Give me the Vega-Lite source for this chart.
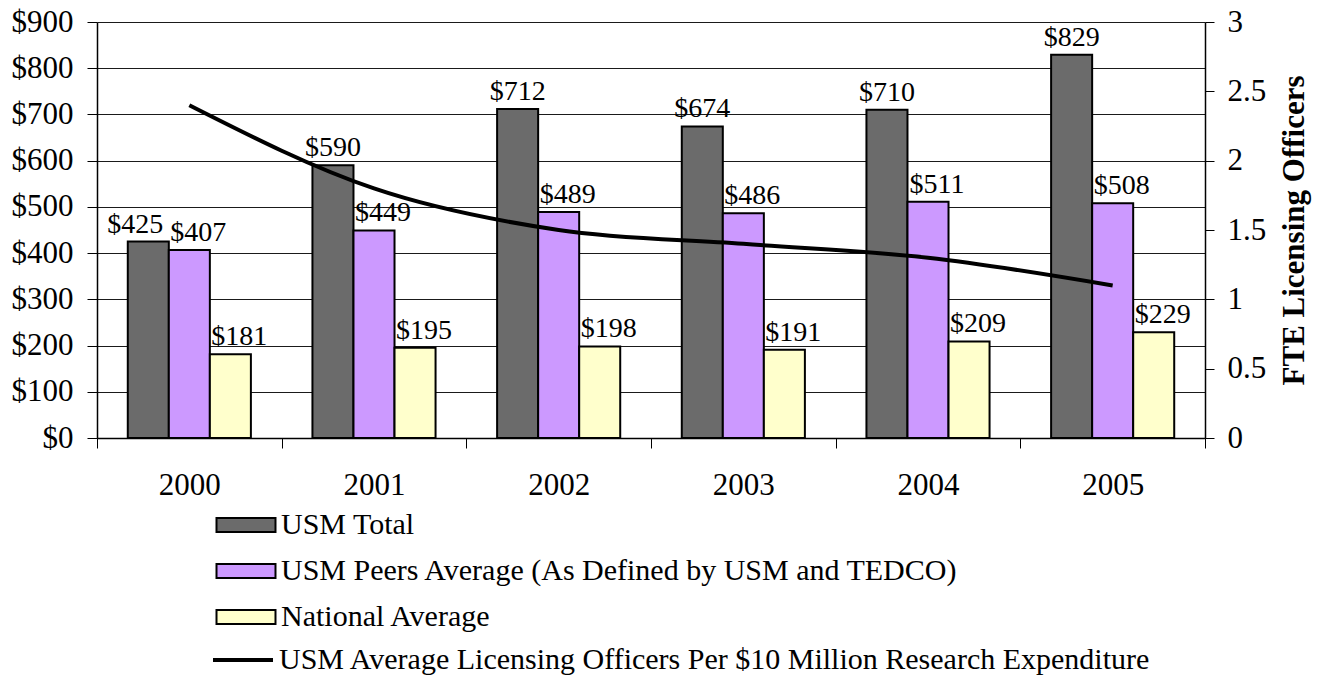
{
  "$schema": "https://vega.github.io/schema/vega-lite/v6.json",
  "width": 1108,
  "height": 416,
  "autosize": "none",
  "padding": {"left": 97, "top": 22, "right": 124, "bottom": 237},
  "background": "white",
  "config": {
    "font": "Liberation Serif",
    "view": {"stroke": null},
    "axis": {
      "labelFont": "Liberation Serif",
      "labelFontSize": 31,
      "labelColor": "black",
      "domainColor": "black",
      "domainWidth": 1.5,
      "tickColor": "black",
      "tickWidth": 1,
      "titleFont": "Liberation Serif",
      "titleColor": "black"
    },
    "legend": {
      "labelFont": "Liberation Serif",
      "labelFontSize": 30,
      "labelColor": "black",
      "padding": 0
    }
  },
  "datasets": {
    "bars": [
      {"year": "2000", "series": "USM Total", "value": 425},
      {"year": "2000", "series": "USM Peers Average (As Defined by USM and TEDCO)", "value": 407},
      {"year": "2000", "series": "National Average", "value": 181},
      {"year": "2001", "series": "USM Total", "value": 590},
      {"year": "2001", "series": "USM Peers Average (As Defined by USM and TEDCO)", "value": 449},
      {"year": "2001", "series": "National Average", "value": 195},
      {"year": "2002", "series": "USM Total", "value": 712},
      {"year": "2002", "series": "USM Peers Average (As Defined by USM and TEDCO)", "value": 489},
      {"year": "2002", "series": "National Average", "value": 198},
      {"year": "2003", "series": "USM Total", "value": 674},
      {"year": "2003", "series": "USM Peers Average (As Defined by USM and TEDCO)", "value": 486},
      {"year": "2003", "series": "National Average", "value": 191},
      {"year": "2004", "series": "USM Total", "value": 710},
      {"year": "2004", "series": "USM Peers Average (As Defined by USM and TEDCO)", "value": 511},
      {"year": "2004", "series": "National Average", "value": 209},
      {"year": "2005", "series": "USM Total", "value": 829},
      {"year": "2005", "series": "USM Peers Average (As Defined by USM and TEDCO)", "value": 508},
      {"year": "2005", "series": "National Average", "value": 229}
    ],
    "line": [
      {"year": "2000", "measure": "USM Average Licensing Officers Per $10 Million Research Expenditure", "officers": 2.4},
      {"year": "2001", "measure": "USM Average Licensing Officers Per $10 Million Research Expenditure", "officers": 1.8},
      {"year": "2002", "measure": "USM Average Licensing Officers Per $10 Million Research Expenditure", "officers": 1.5},
      {"year": "2003", "measure": "USM Average Licensing Officers Per $10 Million Research Expenditure", "officers": 1.4},
      {"year": "2004", "measure": "USM Average Licensing Officers Per $10 Million Research Expenditure", "officers": 1.3},
      {"year": "2005", "measure": "USM Average Licensing Officers Per $10 Million Research Expenditure", "officers": 1.1}
    ]
  },
  "encoding": {
    "x": {
      "field": "year",
      "type": "nominal",
      "scale": {"paddingInner": 0, "paddingOuter": 0},
      "axis": {
        "title": null,
        "labelAngle": 0,
        "tickBand": "extent",
        "tickSize": 10,
        "labelPadding": 22
      }
    }
  },
  "layer": [
    {
      "data": {"name": "bars"},
      "encoding": {
        "y": {
          "field": "value",
          "type": "quantitative",
          "scale": {"domain": [0, 900]},
          "axis": {
            "title": null,
            "values": [0, 100, 200, 300, 400, 500, 600, 700, 800, 900],
            "format": "$,.0f",
            "tickSize": 10,
            "labelPadding": 14,
            "grid": true,
            "gridColor": "#1a1a1a",
            "gridWidth": 1
          }
        },
        "xOffset": {
          "field": "series",
          "type": "nominal",
          "scale": {
            "domain": ["USM Total", "USM Peers Average (As Defined by USM and TEDCO)", "National Average"],
            "paddingInner": 0,
            "paddingOuter": 0.75
          }
        }
      },
      "layer": [
        {
          "mark": {"type": "bar", "stroke": "black", "strokeWidth": 2},
          "encoding": {
            "fill": {
              "field": "series",
              "type": "nominal",
              "scale": {
                "domain": ["USM Total", "USM Peers Average (As Defined by USM and TEDCO)", "National Average"],
                "range": ["#6b6b6b", "#CC99FF", "#FFFFCC"]
              },
              "legend": {
                "title": null,
                "orient": "none",
                "legendX": 133,
                "legendY": 487,
                "direction": "vertical",
                "symbolType": "M-2,-0.47H2V0.47H-2Z",
                "symbolSize": 870,
                "symbolStrokeColor": "black",
                "symbolStrokeWidth": 2,
                "symbolOpacity": 1,
                "rowPadding": 15,
                "labelOffset": 19,
                "labelLimit": 900
              }
            }
          }
        },
        {
          "transform": [{"filter": "datum.series === 'USM Total' && datum.year !== '2000'"}],
          "mark": {"type": "text", "fontSize": 28, "baseline": "alphabetic", "dy": -9, "color": "black"},
          "encoding": {"text": {"field": "value", "type": "quantitative", "format": "$,.0f"}}
        },
        {
          "transform": [{"filter": "datum.series === 'USM Total' && datum.year === '2000'"}],
          "mark": {"type": "text", "fontSize": 28, "baseline": "alphabetic", "dy": -9, "dx": -13, "color": "black"},
          "encoding": {"text": {"field": "value", "type": "quantitative", "format": "$,.0f"}}
        },
        {
          "transform": [{"filter": "datum.series !== 'USM Total'"}],
          "mark": {"type": "text", "fontSize": 28, "baseline": "alphabetic", "dy": -9, "dx": 9, "color": "black"},
          "encoding": {"text": {"field": "value", "type": "quantitative", "format": "$,.0f"}}
        }
      ]
    },
    {
      "data": {"name": "line"},
      "mark": {"type": "line", "strokeWidth": 4, "interpolate": "monotone"},
      "encoding": {
        "y": {
          "field": "officers",
          "type": "quantitative",
          "scale": {"domain": [0, 3]},
          "axis": {
            "orient": "right",
            "title": "FTE Licensing Officers",
            "titleFontSize": 31,
            "titleFontWeight": "bold",
            "titleAngle": 270,
            "titleBaseline": "top",
            "values": [0, 0.5, 1, 1.5, 2, 2.5, 3],
            "format": ".1~f",
            "grid": false,
            "tickSize": 9,
            "labelPadding": 13,
            "titlePadding": 14
          }
        },
        "stroke": {
          "field": "measure",
          "type": "nominal",
          "scale": {"range": ["black"]},
          "legend": {
            "title": null,
            "orient": "none",
            "legendX": 129,
            "legendY": 621,
            "symbolType": "M-2,0L2,0",
            "symbolSize": 900,
            "symbolStrokeWidth": 4,
            "labelOffset": 19,
            "labelLimit": 1000
          }
        }
      }
    }
  ],
  "resolve": {"scale": {"y": "independent"}}
}
